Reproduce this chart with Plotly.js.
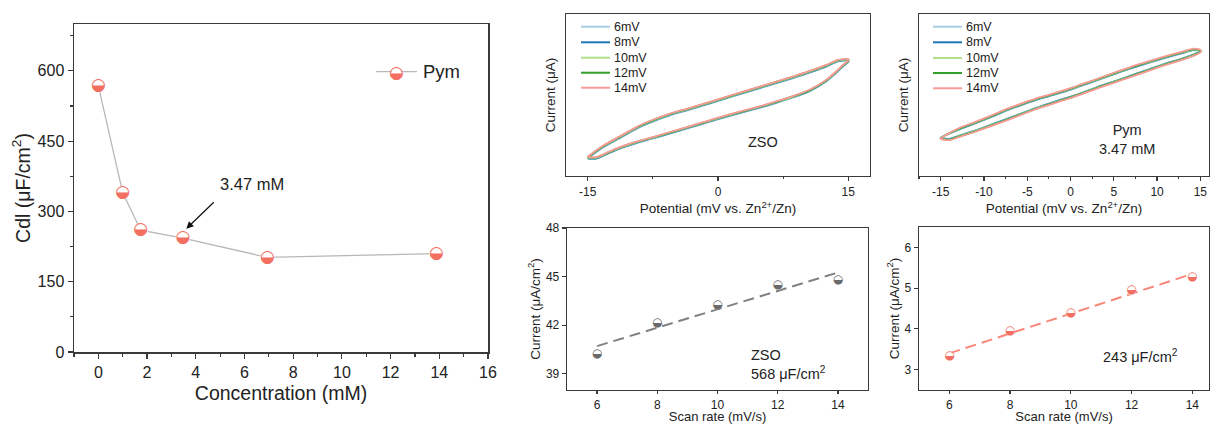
<!DOCTYPE html>
<html>
<head>
<meta charset="utf-8">
<script src="https://cdn.plot.ly/plotly-3.0.1.min.js"></script>
<style>html,body{margin:0;padding:0;background:#fff;}#chart{width:1211px;height:424px;}</style>
</head>
<body>
<div id="chart"></div>
<script>
// ---- Panel (a): Cdl vs concentration ----
const conc = [0, 1, 1.74, 3.47, 6.94, 13.88];
const cdl = [568, 340, 260, 243, 202, 210];

// ---- CV loops: potential (mV vs Zn2+/Zn), current in arbitrary units ----
const rateNames = ['6mV', '8mV', '10mV', '12mV', '14mV'];
const rateColors = ['#a6cee3', '#1f78b4', '#b2df8a', '#33a02c', '#fb9a99'];

const potZSO = [-15,-13.2,-11.3,-9.4,-7.5,-5.6,-3.6,-1.7,0,2.9,4.8,6.7,8.6,10.6,12.5,13.8,15,
                15,14.4,13.6,12.5,10.6,8.6,6.7,4.8,2.9,0,-1.7,-3.6,-5.6,-7.5,-9.4,-11.3,-12.5,-14,-15];
const zso6  = [10.9,17.7,23.4,29.1,33.6,37.3,40.4,43.4,46.2,51.0,54.1,57.2,60.3,63.8,67.5,70.6,71.1,
               70.3,67.6,63.5,58.5,52.4,48.3,45.0,42.0,39.3,35.0,32.2,29.2,26.0,23.0,20.2,16.8,14.1,10.6,10.6];
const zso8  = [11.2,18.0,23.7,29.4,33.9,37.6,40.7,43.7,46.5,51.3,54.4,57.5,60.6,64.1,67.8,70.9,71.4,
               70.6,67.9,63.8,58.8,52.7,48.6,45.3,42.3,39.6,35.3,32.5,29.5,26.3,23.3,20.5,17.1,14.4,10.9,10.9];
const zso10 = [11.5,18.3,24.0,29.7,34.2,37.9,41.0,44.0,46.8,51.6,54.7,57.8,60.9,64.4,68.1,71.2,71.7,
               70.9,68.2,64.1,59.1,53.0,48.9,45.6,42.6,39.9,35.6,32.8,29.8,26.6,23.6,20.8,17.4,14.7,11.2,11.2];
const zso12 = [11.7,18.6,24.3,30.0,34.5,38.2,41.3,44.3,47.1,51.9,55.0,58.1,61.2,64.7,68.4,71.5,72.0,
               71.1,68.4,64.3,59.3,53.2,49.1,45.8,42.8,40.1,35.8,33.0,30.0,26.8,23.8,21.0,17.6,14.9,11.4,11.4];
const zso14 = [11.9,18.8,24.5,30.2,34.7,38.4,41.5,44.5,47.3,52.1,55.2,58.3,61.4,64.9,68.6,71.7,72.2,
               71.3,68.6,64.5,59.5,53.4,49.3,46.0,43.0,40.3,36.0,33.2,30.2,27.0,24.0,21.2,17.8,15.1,11.6,11.6];

const potPym = [-15,-13,-11,-9.1,-7.2,-5.3,-3.4,-1.4,0,1.3,3.2,5.1,7,9,10.9,12.8,14.2,15,
                15,14.4,12.8,10.9,9,7,5.1,3.2,1.3,0,-1.4,-3.4,-5.3,-7.2,-9.1,-11,-13,-14,-15];
const pym6  = [23.8,28.3,32.4,36.5,40.7,44.4,47.8,50.9,53.2,55.7,59.2,62.9,66.4,69.7,72.8,75.6,77.6,77.1,
               77.0,75.5,72.4,69.3,65.8,62.1,58.6,55.2,51.4,49.0,46.7,43.2,39.5,35.6,31.9,28.2,24.7,23.0,23.8];
const pym8  = [23.6,28.5,32.6,36.7,40.9,44.6,48.0,51.1,53.4,55.9,59.4,63.1,66.6,69.9,73.0,75.8,77.8,77.3,
               76.9,75.3,72.2,69.1,65.6,61.9,58.4,55.0,51.2,48.8,46.5,43.0,39.3,35.4,31.7,28.0,24.5,22.8,23.6];
const pym10 = [23.4,28.8,32.9,37.0,41.2,44.9,48.3,51.4,53.7,56.2,59.7,63.4,66.9,70.2,73.3,76.1,78.1,77.5,
               76.7,75.1,72.0,68.9,65.4,61.7,58.2,54.8,51.0,48.6,46.3,42.8,39.1,35.2,31.5,27.8,24.3,22.5,23.4];
const pym12 = [23.2,29.0,33.1,37.2,41.4,45.1,48.5,51.6,53.9,56.4,59.9,63.6,67.1,70.4,73.5,76.3,78.3,77.7,
               76.5,74.9,71.8,68.7,65.2,61.5,58.0,54.6,50.8,48.4,46.1,42.6,38.9,35.0,31.3,27.6,24.1,22.3,23.2];
const pym14 = [23.0,29.3,33.4,37.5,41.7,45.4,48.8,51.9,54.2,56.7,60.2,63.9,67.4,70.7,73.8,76.6,78.6,77.9,
               76.3,74.6,71.5,68.4,64.9,61.2,57.7,54.3,50.5,48.1,45.8,42.3,38.6,34.7,31.0,27.3,23.8,22.1,23.0];

// tick labels for the CV potential axes (hyphen-minus as in the original)
const cvTicksZSO = [-15, 0, 15];
const cvTicksPym = [-15, -10, -5, 0, 5, 10, 15];

// ---- Scan-rate fits ----
const scanRate = [6, 8, 10, 12, 14];
const zsoCurrent = [40.22, 42.16, 43.27, 44.47, 44.78];
const pymCurrent = [3.33, 3.96, 4.40, 4.95, 5.28];
const fitRate = [6, 14];
const zsoFit = [40.71, 45.25];
const pymFit = [3.40, 5.35];

// ---------------------------------------------------------
const W = 1211, H = 424;
const px = v => v / W;
const py = v => 1 - v / H;
const FONT = 'Liberation Sans, Arial, sans-serif';
const AX = '#3a3a3a';
const SALMON = '#f26f62';
const GREY = '#6a6a6a';
const HALF = '\u25D2';

function halfMarkers(x, y, color, size, xa, ya) {
  return [{
    x: x, y: y, xaxis: xa, yaxis: ya, mode: 'markers+text',
    marker: {symbol: 'circle', size: size * 0.82, color: '#ffffff', line: {width: 0}},
    text: x.map(() => HALF), textposition: 'middle center',
    textfont: {family: 'DejaVu Sans', size: size, color: color},
    hoverinfo: 'skip', showlegend: false, cliponaxis: false
  }];
}

const traces = [];
traces.push({x: conc, y: cdl, xaxis: 'x', yaxis: 'y', mode: 'lines',
  line: {color: '#b8b8b8', width: 1.3}, showlegend: false, name: 'Pym'});
traces.push(...halfMarkers(conc, cdl, SALMON, 17, 'x', 'y'));

const zsoSeries = [zso6, zso8, zso10, zso12, zso14];
const pymSeries = [pym6, pym8, pym10, pym12, pym14];
zsoSeries.forEach((s, i) => traces.push({x: potZSO, y: s, xaxis: 'x2', yaxis: 'y2', mode: 'lines',
  name: rateNames[i], line: {color: rateColors[i], width: 1.8, shape: 'spline', smoothing: 0.6}, showlegend: false}));
pymSeries.forEach((s, i) => traces.push({x: potPym, y: s, xaxis: 'x3', yaxis: 'y3', mode: 'lines',
  name: rateNames[i], line: {color: rateColors[i], width: 1.8, shape: 'spline', smoothing: 0.6}, showlegend: false}));

traces.push({x: fitRate, y: zsoFit, xaxis: 'x4', yaxis: 'y4', mode: 'lines',
  line: {color: '#808080', width: 2, dash: '11px,6px'}, showlegend: false});
traces.push(...halfMarkers(scanRate, zsoCurrent, GREY, 12, 'x4', 'y4'));
traces.push({x: fitRate, y: pymFit, xaxis: 'x5', yaxis: 'y5', mode: 'lines',
  line: {color: '#f8877a', width: 2, dash: '11px,6px'}, showlegend: false});
traces.push(...halfMarkers(scanRate, pymCurrent, SALMON, 12, 'x5', 'y5'));

function axisBase(extra) {
  return Object.assign({
    showgrid: false, zeroline: false, showline: true, linecolor: AX, linewidth: 1.3,
    mirror: true, ticks: 'outside', tickcolor: AX, tickwidth: 1.2, ticklen: 4,
    tickfont: {family: FONT, size: 12, color: '#222'}, fixedrange: true
  }, extra);
}
const titleFont = s => ({family: FONT, size: s, color: '#222'});

const layout = {
  width: W, height: H, margin: {l: 0, r: 0, t: 0, b: 0},
  paper_bgcolor: '#ffffff', plot_bgcolor: '#ffffff', showlegend: false,
  font: {family: FONT, color: '#222'},
  xaxis: axisBase({domain: [px(74), px(488)], anchor: 'y', range: [-1, 16], dtick: 2, tick0: 0,
    ticklen: 5, linewidth: 1.5, tickfont: titleFont(16),
    minor: {dtick: 1, ticklen: 3, tickcolor: AX, ticks: 'outside'},
    title: {text: 'Concentration (mM)', font: titleFont(19.5), standoff: 6}}),
  yaxis: axisBase({domain: [py(352), py(24)], anchor: 'x', range: [0, 700], dtick: 150,
    ticklen: 5, linewidth: 1.5, tickfont: titleFont(16),
    minor: {dtick: 75, ticklen: 3, tickcolor: AX, ticks: 'outside'},
    title: {text: 'Cdl (\u03bcF/cm<sup>2</sup>)', font: titleFont(19.5), standoff: 2}}),
  xaxis2: axisBase({domain: [px(566), px(870)], anchor: 'y2', range: [-17.5, 17.5],
    tickmode: 'array', tickvals: cvTicksZSO, ticktext: cvTicksZSO.map(String),
    minor: {tickmode: 'linear', tick0: 0, dtick: 7.5, ticklen: 2, tickcolor: AX, ticks: 'outside'},
    title: {text: 'Potential (mV vs. Zn<sup>2+</sup>/Zn)', font: titleFont(13.5), standoff: 3}}),
  yaxis2: axisBase({domain: [py(176), py(14)], anchor: 'x2', range: [0, 100], showticklabels: false, ticks: '',
    title: {text: 'Current (\u03bcA)', font: titleFont(13.5), standoff: 6}}),
  xaxis3: axisBase({domain: [px(919), px(1209)], anchor: 'y3', range: [-17.5, 16],
    tickmode: 'array', tickvals: cvTicksPym, ticktext: cvTicksPym.map(String),
    minor: {tickmode: 'linear', tick0: 0, dtick: 2.5, ticklen: 2, tickcolor: AX, ticks: 'outside'},
    title: {text: 'Potential (mV vs. Zn<sup>2+</sup>/Zn)', font: titleFont(13.5), standoff: 3}}),
  yaxis3: axisBase({domain: [py(176), py(14)], anchor: 'x3', range: [0, 100], showticklabels: false, ticks: '',
    title: {text: 'Current (\u03bcA)', font: titleFont(13.5), standoff: 6}}),
  xaxis4: axisBase({domain: [px(567), px(868)], anchor: 'y4', range: [5, 15], dtick: 2, tick0: 0, ticklen: 3,
    title: {text: 'Scan rate (mV/s)', font: titleFont(13), standoff: 5}}),
  yaxis4: axisBase({domain: [py(390), py(228)], anchor: 'x4', range: [38, 48], dtick: 3, tick0: 39,
    title: {text: 'Current (\u03bcA/cm<sup>2</sup>)', font: titleFont(13.5), standoff: 2}}),
  xaxis5: axisBase({domain: [px(919), px(1209)], anchor: 'y5', range: [5, 14.55], dtick: 2, tick0: 0, ticklen: 3,
    title: {text: 'Scan rate (mV/s)', font: titleFont(13), standoff: 5}}),
  yaxis5: axisBase({domain: [py(390), py(227)], anchor: 'x5', range: [2.5, 6.5], dtick: 1, tick0: 0,
    title: {text: 'Current (\u03bcA/cm<sup>2</sup>)', font: titleFont(13.5), standoff: 2}}),
  shapes: [],
  annotations: []
};

function note(x, y, text, size, opts) {
  layout.annotations.push(Object.assign({xref: 'paper', yref: 'paper', x: px(x), y: py(y), text: text,
    showarrow: false, xanchor: 'center', yanchor: 'middle', font: titleFont(size)}, opts || {}));
}

function cvLegend(x0, x1, tx, rows) {
  rateNames.forEach((n, i) => {
    layout.shapes.push({type: 'line', xref: 'paper', yref: 'paper', x0: px(x0), x1: px(x1),
      y0: py(rows[i]), y1: py(rows[i]), line: {color: rateColors[i], width: 2}});
    note(tx, rows[i], n, 12.5, {xanchor: 'left'});
  });
}
cvLegend(581, 610, 612, [26.7, 42.3, 57.7, 72.7, 87.7]);
cvLegend(933, 962, 964, [26.7, 42.3, 58, 73, 88.3]);

// panel a legend
layout.shapes.push({type: 'line', xref: 'paper', yref: 'paper', x0: px(376), x1: px(417),
  y0: py(71.7), y1: py(71.7), line: {color: '#b8b8b8', width: 1.3}});
layout.shapes.push({type: 'circle', xref: 'paper', yref: 'paper', x0: px(391.5), x1: px(401.5),
  y0: py(76.7), y1: py(66.7), fillcolor: '#ffffff', line: {width: 0}});
note(396.7, 71.7, HALF, 17, {font: {family: 'DejaVu Sans', size: 17, color: SALMON}});
note(421, 71.7, 'Pym', 18.5, {xanchor: 'left'});

// arrow + label in panel a
layout.annotations.push({xref: 'x', yref: 'y', x: 3.61, y: 263, text: '', showarrow: true,
  ax: 29, ay: -28, arrowhead: 2, arrowsize: 1.2, arrowwidth: 1.2, arrowcolor: '#111'});
note(252, 184, '3.47 mM', 16.5);

// in-panel labels
note(763.3, 141.7, 'ZSO', 14.5);
note(1127, 139, 'Pym<br>3.47 mM', 14.5, {align: 'center'});
note(748.5, 364, 'ZSO<br>568 \u03bcF/cm<sup>2</sup>', 14.5, {xanchor: 'left', align: 'left'});
note(1101, 356, '243 \u03bcF/cm<sup>2</sup>', 14.5, {xanchor: 'left', align: 'left'});

Plotly.newPlot('chart', traces, layout, {staticPlot: true, displayModeBar: false});
</script>
</body>
</html>
